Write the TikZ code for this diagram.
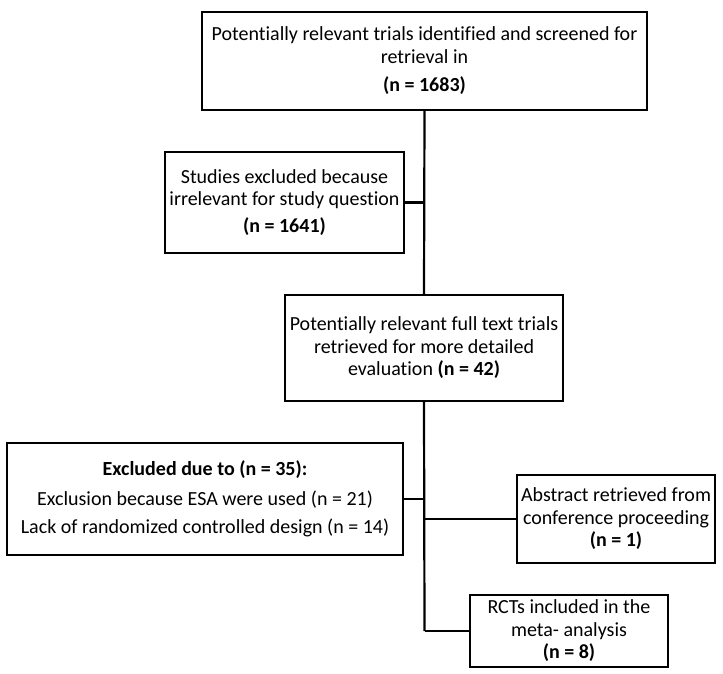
\documentclass[tikz,border=0pt]{standalone}
\usepackage{fontspec}
\setmainfont[Ligatures=NoCommon]{Carlito}
\begin{document}
\begin{tikzpicture}[x=1pt,y=-1pt,
  box/.style={draw=black, line width=2.2pt, fill=white, align=center, inner sep=0pt,
    font=\fontsize{20}{22.5}\selectfont},
  conn/.style={draw=black, line width=2.2pt}]
\useasboundingbox (0,0) rectangle (723,674);
\node[box, minimum width=445, minimum height=98] (a) at (424.5,61)
  {Potentially relevant trials identified and screened for\\ retrieval in\\[6pt] \textbf{(n = 1683)}};
\node[box, minimum width=239, minimum height=101] (b) at (284.5,202.5)
  {Studies excluded because\\ irrelevant for study question\\[4pt] \textbf{(n = 1641)}};
\node[box, minimum width=278, minimum height=106] (c) at (424,348)
  {Potentially relevant full text trials\\ retrieved for more detailed\\ evaluation \textbf{(n = 42)}};
\node[box, minimum width=396, minimum height=112] (d) at (205,499)
  {\textbf{Excluded due to (n = 35):}\\[7pt] Exclusion because ESA were used (n = 21)\\[6pt] Lack of randomized controlled design (n = 14)};
\node[box, minimum width=198, minimum height=88] (e) at (616,519)
  {Abstract retrieved from\\ conference proceeding\\ \textbf{(n = 1)}};
\node[box, minimum width=198, minimum height=72] (f) at (569,631)
  {RCTs included in the\\ meta- analysis\\ \textbf{(n = 8)}};
\coordinate (bj) at (b.east -| a.south);
\coordinate (dj) at (d.east -| a.south);
\coordinate (ej) at (e.west -| a.south);
\coordinate (fj) at (f.west -| a.south);
\draw[conn] (a.south) -- (c.north);
\draw[conn] (b.east) -- (bj);
\draw[conn] (c.south) -- (fj);
\draw[conn] (d.east) -- (dj);
\draw[conn] (e.west) -- (ej);
\draw[conn] (f.west) -- (fj);
\end{tikzpicture}
\end{document}
